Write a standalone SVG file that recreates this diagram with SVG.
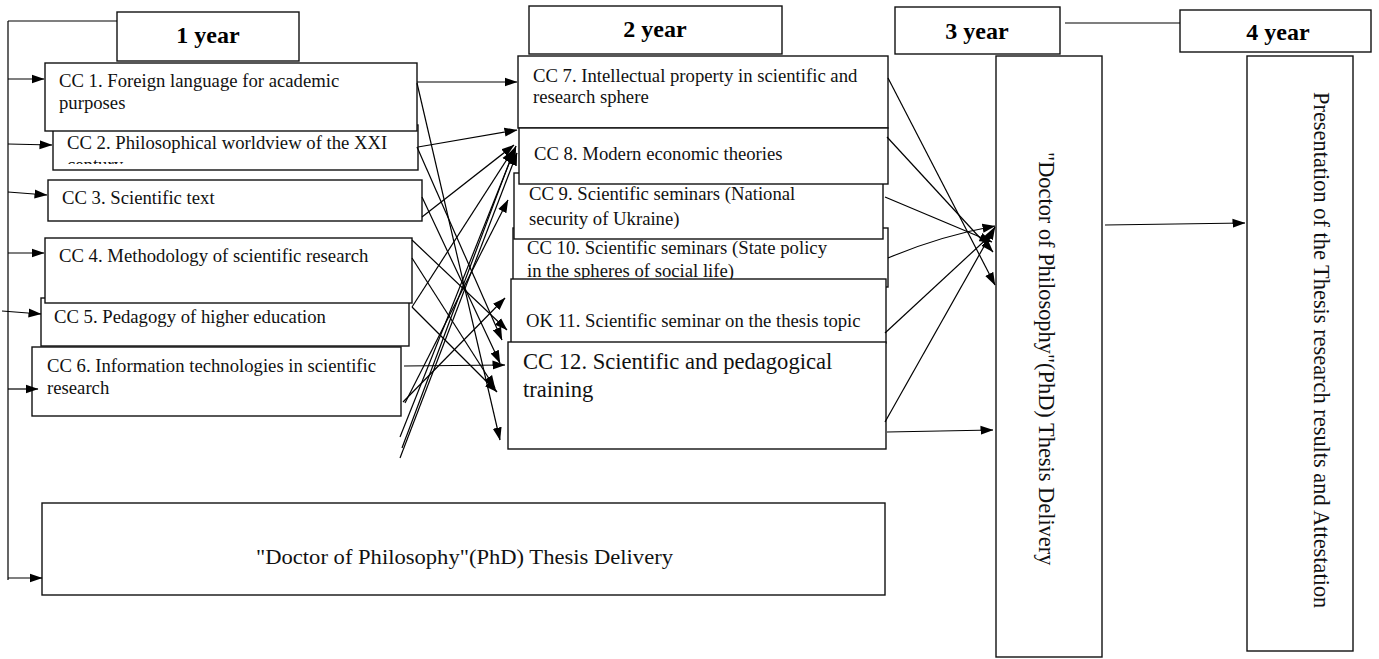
<svg xmlns="http://www.w3.org/2000/svg" width="1379" height="659" viewBox="0 0 1379 659">
<style>
.box{fill:#fff;stroke:#111;stroke-width:1.4}
.t{font-family:"Liberation Serif","Times New Roman",serif;font-size:18.7px;fill:#111}
.big{font-size:22.6px}
.bt{font-family:"Liberation Serif","Times New Roman",serif;font-size:22px;fill:#111;text-anchor:middle}
.yr{font-family:"Liberation Serif","Times New Roman",serif;font-size:24px;font-weight:bold;fill:#000;text-anchor:middle}
.vt{font-family:"Liberation Serif","Times New Roman",serif;font-size:22.4px;fill:#111}
.ln{stroke:#000;stroke-width:1.2;fill:none}
.ar{stroke:#000;stroke-width:1.2;fill:none;marker-end:url(#ah)}
</style>
<defs>
<marker id="ah" markerUnits="userSpaceOnUse" markerWidth="13" markerHeight="10" refX="12.5" refY="5" orient="auto">
<path d="M0,0.5 L13,5 L0,9.5 z" fill="#000"/>
</marker>
<clipPath id="cc2clip"><rect x="53" y="125" width="365" height="39"/></clipPath>
</defs>

<g id="year1"><rect class="box" x="117" y="12" width="182" height="49"/><text class="yr" x="208" y="43">1 year</text></g>
<g id="year2"><rect class="box" x="529" y="6" width="253" height="48"/><text class="yr" x="655" y="37">2 year</text></g>
<g id="year3"><rect class="box" x="895" y="7" width="165" height="47"/><text class="yr" x="977" y="39">3 year</text></g>
<g id="year4"><rect class="box" x="1180" y="10" width="191" height="42"/><text class="yr" x="1278" y="40">4 year</text></g>

<g id="cc2"><rect class="box" x="53" y="125" width="365" height="45"/><g clip-path="url(#cc2clip)"><text class="t" x="67" y="149">CC 2. Philosophical worldview of the XXI</text><text class="t" x="67" y="171">century</text></g></g>
<g id="cc1"><rect class="box" x="45" y="63" width="372" height="68"/><text class="t" x="59" y="87">CC 1. Foreign language for academic</text><text class="t" x="59" y="109">purposes</text></g>
<g id="cc3"><rect class="box" x="48" y="180" width="374" height="41"/><text class="t" x="62" y="204">CC 3. Scientific text</text></g>
<g id="cc5"><rect class="box" x="41" y="298" width="368" height="48"/><text class="t" x="54" y="323">CC 5. Pedagogy of higher education</text></g>
<g id="cc4"><rect class="box" x="45" y="238" width="367" height="65"/><text class="t" x="59" y="262">CC 4. Methodology of scientific research</text></g>
<g id="cc6"><rect class="box" x="32" y="347" width="369" height="69"/><text class="t" x="47" y="372">CC 6. Information technologies in scientific</text><text class="t" x="47" y="394">research</text></g>

<g id="cc7"><rect class="box" x="518" y="56" width="370" height="72"/><text class="t" x="533" y="82">CC 7. Intellectual property in scientific and</text><text class="t" x="533" y="103">research sphere</text></g>
<g id="cc10"><rect class="box" x="513" y="228" width="375" height="59"/><text class="t" x="527" y="254">CC 10. Scientific seminars (State policy</text><text class="t" x="527" y="277">in the spheres of social life)</text></g>
<g id="cc9"><rect class="box" x="514" y="173" width="369" height="66"/><text class="t" x="529" y="200">CC 9. Scientific seminars (National</text><text class="t" x="529" y="225">security of Ukraine)</text></g>
<g id="cc8"><rect class="box" x="519" y="128" width="369" height="56"/><text class="t" x="534" y="160">CC 8. Modern economic theories</text></g>
<g id="ok11"><rect class="box" x="511" y="279" width="375" height="64"/><text class="t" x="526" y="327">OK 11. Scientific seminar on the thesis topic</text></g>
<g id="cc12"><rect class="box" x="508" y="342" width="378" height="107"/><text class="t big" x="523" y="369">CC 12. Scientific and pedagogical</text><text class="t big" x="523" y="397">training</text></g>

<g id="thesis3"><rect class="box" x="996" y="56" width="106" height="601"/><text class="vt" transform="translate(1039,152) rotate(90)">"Doctor of Philosophy"(PhD) Thesis Delivery</text></g>
<g id="attest4"><rect class="box" x="1247" y="56" width="106" height="595"/><text class="vt" transform="translate(1314,92) rotate(90)">Presentation of the Thesis research results and Attestation</text></g>
<g id="thesisBottom"><rect class="box" x="42" y="503" width="843" height="92"/><text class="bt" x="464.5" y="564" textLength="417" lengthAdjust="spacingAndGlyphs">"Doctor of Philosophy"(PhD) Thesis Delivery</text></g>

<g id="connectors">
<path class="ln" d="M8,21 L117,21 M8,21 L8,580 M1065,23 L1180,23"/>
<path class="ar" d="M8,79 L44,79"/>
<path class="ar" d="M8,144 L52,145"/>
<path class="ar" d="M8,192 L47,195"/>
<path class="ar" d="M8,253 L44,253"/>
<path class="ar" d="M2,311 L41,314"/>
<path class="ar" d="M8,389 L38,389"/>
<path class="ar" d="M8,578 L42,578"/>

<path class="ar" d="M417,82 L517,82"/>
<path class="ar" d="M417,83 L500,440"/>
<path class="ar" d="M418,147 L517,130"/>
<path class="ar" d="M417,147 L502,340"/>
<path class="ar" d="M422,197 L500,363"/>
<path class="ar" d="M422,217 L514,145"/>
<path class="ar" d="M412,240 L507,330"/>
<path class="ar" d="M412,258 L495,388"/>
<path class="ar" d="M412,307 L513,150"/>
<path class="ar" d="M412,307 L497,392"/>
<path class="ar" d="M404,366 L505,365"/>
<path class="ar" d="M403,402 L505,298"/>
<path class="ar" d="M405,403 L508,200"/>
<path class="ar" d="M400,437 L516,146"/>
<path class="ar" d="M402,448 L514,150"/>
<path class="ar" d="M400,458 L517,153"/>

<path class="ar" d="M888,78 L995,285"/>
<path class="ar" d="M887,137 L993,252"/>
<path class="ar" d="M885,197 L992,242"/>
<path class="ar" d="M888,258 Q940,236 995,226"/>
<path class="ar" d="M885,333 L993,233"/>
<path class="ar" d="M885,422 L995,227"/>
<path class="ar" d="M887,432 L993,430"/>
<path class="ar" d="M1105,225 L1245,223"/>
</g>
</svg>
